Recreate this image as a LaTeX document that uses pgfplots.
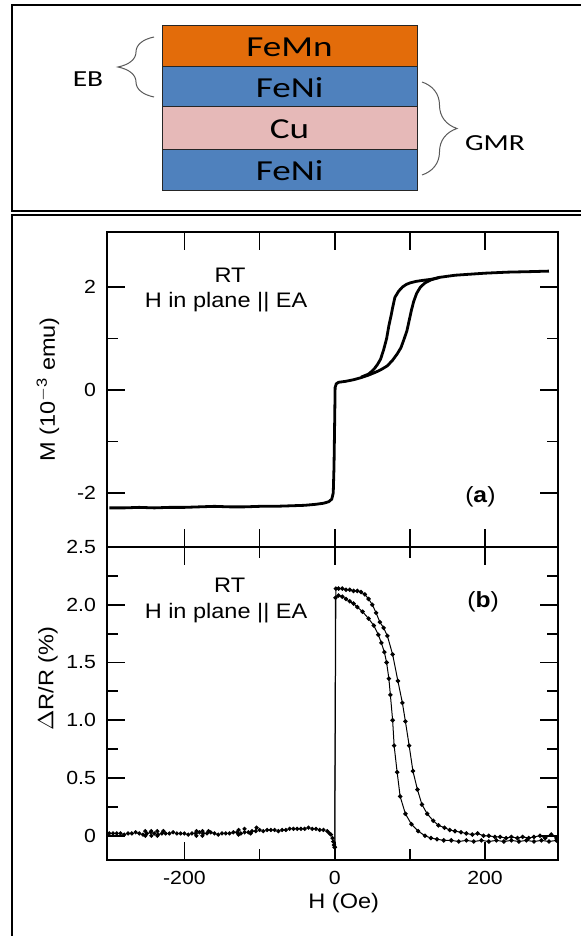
\documentclass[border=0pt]{standalone}
\usepackage{fontspec}
\setmainfont{Liberation Sans}
\newfontfamily\calib{Carlito}
\usepackage{graphicx}
\usepackage{pgfplots}
\pgfplotsset{compat=1.18}
\usetikzlibrary{decorations.pathreplacing}
\definecolor{femn}{RGB}{227,108,10}
\definecolor{feni}{RGB}{79,129,189}
\definecolor{cu}{RGB}{230,185,184}
\newcommand{\W}[1]{\scalebox{1.12}[1]{#1}}
\newcommand{\CW}[1]{\scalebox{1.28}[1]{#1}}
\begin{document}
\begin{tikzpicture}
\begin{scope}[x=0.5pt,y=-0.5pt]
\useasboundingbox (0,0) rectangle (580,936);
\draw[line width=1.1pt] (12,5) rectangle (620,211);
\draw[line width=1.1pt] (12,215) rectangle (620,980);
\filldraw[fill=femn, draw=black!85, line width=0.5pt] (162,26) rectangle (417,67);
\filldraw[fill=feni, draw=black!85, line width=0.5pt] (162,67) rectangle (417,107);
\filldraw[fill=cu, draw=black!85, line width=0.5pt] (162,107) rectangle (417,150);
\filldraw[fill=feni, draw=black!85, line width=0.5pt] (162,150) rectangle (417,191);
\node at (289.5,47) {\calib\fontsize{14.5}{14.5}\selectfont\CW{FeMn}};
\node at (289.5,88) {\calib\fontsize{14.5}{14.5}\selectfont\CW{FeNi}};
\node at (289.5,129) {\calib\fontsize{14.5}{14.5}\selectfont\CW{Cu}};
\node at (289.5,171) {\calib\fontsize{14.5}{14.5}\selectfont\CW{FeNi}};
\draw[black!65, line width=0.5pt, decorate, decoration={brace, amplitude=18pt}] (154,97) -- (154,37);
\draw[black!65, line width=0.5pt, decorate, decoration={brace, amplitude=17.5pt}] (422,82) -- (422,175);
\node at (88,79) {\calib\fontsize{11.5}{11.5}\selectfont\CW{EB}};
\node at (495,143) {\calib\fontsize{11.5}{11.5}\selectfont\CW{GMR}};
\end{scope}

\begin{axis}[
  at={(53.5pt,-273.5pt)}, anchor=south west,
  scale only axis, width=225.5pt, height=157.5pt,
  xmin=-303, xmax=297, ymin=-3.05, ymax=3.07,
  xtick={-200,-100,0,100,200}, xticklabels={},
  ytick={-2,0,2}, yticklabels={\W{-2},\W{0},\W{2}},
  minor ytick={-1,1},
  tick align=inside, major tick length=9pt, minor tick length=5.5pt,
  axis line style={line width=1.1pt},
  every tick/.style={black, line width=0.9pt},
  tick label style={font=\fontsize{9.5}{10}\selectfont},
  yticklabel style={xshift=-2pt},
  ylabel={\W{M (10\textsuperscript{$-$3} emu)}},
  ylabel style={at={(rel axis cs:-0.131,0.5)}, anchor=center, font=\fontsize{10.5}{11}\selectfont},
  clip=false,
]
\addplot[black, line width=1.4pt] coordinates {
(-300,-2.29) (-280,-2.29) (-260,-2.28) (-240,-2.29) (-220,-2.28) (-200,-2.28) (-180,-2.27) (-160,-2.26) (-140,-2.27) (-120,-2.27) (-100,-2.26) (-80,-2.26) (-60,-2.25) (-40,-2.24) (-25,-2.22) (-15,-2.2) (-8,-2.17) (-4,-2.12) (-2,-2.0) (-1,-1.5) (0,-0.5) (0.5,0.05) (2,0.12) (5,0.15) (15,0.17) (25,0.2) (35,0.24) (45,0.29) (55,0.35) (62,0.4) (70,0.47) (77,0.58) (83,0.7) (88,0.82) (92,0.98) (96,1.15) (99,1.35) (102,1.55) (105,1.72) (109,1.88) (114,2.0) (120,2.08) (128,2.14) (140,2.19) (160,2.23) (180,2.25) (200,2.27) (230,2.29) (260,2.3) (285,2.31)
};
\addplot[black, line width=1.4pt] coordinates {
(140,2.19) (128,2.15) (117,2.13) (108,2.11) (100,2.08) (95,2.05) (90,2.0) (85,1.92) (80,1.8) (77,1.6) (75,1.45) (72,1.25) (69,1.0) (65,0.78) (61,0.6) (57,0.5) (53,0.42) (49,0.36) (45,0.31) (35,0.25)
};
\node at (rel axis cs:0.273,0.863) {\fontsize{10.5}{11}\selectfont\W{RT}};
\node at (rel axis cs:0.264,0.778) {\fontsize{10.5}{11}\selectfont\W{H in plane || EA}};
\node at (rel axis cs:0.828,0.159) {\fontsize{11}{12}\selectfont\W{(\textbf{a})}};
\end{axis}

\begin{axis}[
  at={(53.5pt,-273.5pt)}, anchor=north west,
  scale only axis, width=225.5pt, height=156.5pt,
  xmin=-303, xmax=297, ymin=-0.21, ymax=2.5,
  xtick={-200,0,200}, xticklabels={\W{-200},\W{0},\W{200}},
  minor xtick={-100,100},
  ytick={0,0.5,1,1.5,2,2.5}, yticklabels={\W{0},\W{0.5},\W{1.0},\W{1.5},\W{2.0},\W{2.5}},
  minor ytick={0.25,0.75,1.25,1.75,2.25},
  tick align=inside, major tick length=9pt, minor tick length=5.5pt,
  axis line style={line width=1.1pt},
  every tick/.style={black, line width=0.9pt},
  tick label style={font=\fontsize{9.5}{10}\selectfont},
  yticklabel style={xshift=-2pt},
  xticklabel style={yshift=-2pt},
  ylabel={\W{$\Delta$R/R (\%)}},
  ylabel style={at={(rel axis cs:-0.131,0.58)}, anchor=center, font=\fontsize{10.5}{11}\selectfont},
  xlabel={\W{H (Oe)}},
  xlabel style={at={(rel axis cs:0.525,-0.137)}, anchor=center, font=\fontsize{10.5}{11}\selectfont},
  clip=false,
]
\addplot[black, only marks, mark=*, mark size=0.85pt] coordinates {
(-300,0.02) (-295,0.02) (-290,0.02) (-285,0.02) (-280,0.01) (-275,0.02) (-270,0.02) (-265,0.03) (-260,0.02) (-255,0.01) (-250,0.02) (-245,0.03) (-240,0.02) (-235,0.01) (-230,0.02) (-225,0.02) (-220,0.02) (-215,0.03) (-210,0.02) (-205,0.02) (-200,0.02) (-195,0.01) (-190,0.02) (-185,0.02) (-180,0.03) (-175,0.02) (-170,0.02) (-165,0.03) (-160,0.02) (-155,0.01) (-150,0.02) (-145,0.02) (-140,0.02) (-135,0.03) (-130,0.03) (-125,0.02) (-120,0.03) (-115,0.03) (-110,0.04) (-105,0.04) (-100,0.05) (-95,0.04) (-90,0.05) (-85,0.05) (-80,0.05) (-75,0.04) (-70,0.05) (-65,0.05) (-60,0.06) (-55,0.06) (-50,0.06) (-45,0.06) (-40,0.06) (-35,0.07) (-30,0.06) (-25,0.06) (-20,0.05) (-15,0.05) (-10,0.04) (-7,0.02) (-5,0.01) (-3,-0.02) (-2,-0.05) (-1,-0.08)
(-252,0.0) (-252,0.04) (-244,0.0) (-244,0.04) (-236,0.0) (-236,0.04) (-228,0.04) (-184,0.0) (-184,0.04) (-176,0.0) (-176,0.04) (-168,0.04) (-128,0.01) (-128,0.05) (-120,0.06) (-112,0.02) (-104,0.07)
};
\addplot[black, line width=0.5pt, mark=*, mark size=0.85pt] coordinates {
(0,-0.1) (1.5,2.14) (5,2.14) (10,2.14) (15,2.13) (20,2.13) (25,2.12) (30,2.12) (35,2.11) (40,2.09) (45,2.05) (50,2.0) (55,1.93) (60,1.85) (65,1.8) (70,1.73) (77,1.57) (84,1.34) (90,1.15) (94,0.99) (99,0.78) (104,0.56) (110,0.4) (116,0.27) (123,0.19) (131,0.13) (138,0.09) (146,0.07) (153,0.05) (160,0.04) (168,0.03) (175,0.02) (183,0.01) (190,0.02) (198,0.0) (205,0.0) (213,-0.01) (220,-0.01) (228,-0.02) (235,-0.01) (243,-0.02) (250,-0.01) (258,-0.02) (265,-0.01) (273,0.0) (280,-0.02) (288,0.01) (295,-0.02)
};
\addplot[black, line width=0.5pt, mark=*, mark size=0.85pt] coordinates {
(0,-0.1) (1,2.06) (5,2.08) (10,2.07) (15,2.05) (20,2.03) (25,2.01) (30,1.98) (37,1.94) (45,1.88) (52,1.82) (58,1.74) (62,1.67) (66,1.59) (69,1.5) (72,1.36) (74,1.22) (77,1.0) (79,0.78) (83,0.55) (87,0.34) (94,0.19) (102,0.1) (111,0.04) (120,0.0) (128,-0.02) (136,-0.03) (145,-0.04) (155,-0.04) (165,-0.05) (175,-0.04) (185,-0.05) (195,-0.04) (205,-0.05) (215,-0.04) (225,-0.05) (235,-0.04) (245,-0.05) (255,-0.04) (265,-0.05) (275,-0.04) (285,-0.05) (295,-0.04)
};
\node at (rel axis cs:0.272,0.879) {\fontsize{10.5}{11}\selectfont\W{RT}};
\node at (rel axis cs:0.264,0.789) {\fontsize{10.5}{11}\selectfont\W{H in plane || EA}};
\node at (rel axis cs:0.834,0.824) {\fontsize{11}{12}\selectfont\W{(\textbf{b})}};
\end{axis}
\end{tikzpicture}
\end{document}
